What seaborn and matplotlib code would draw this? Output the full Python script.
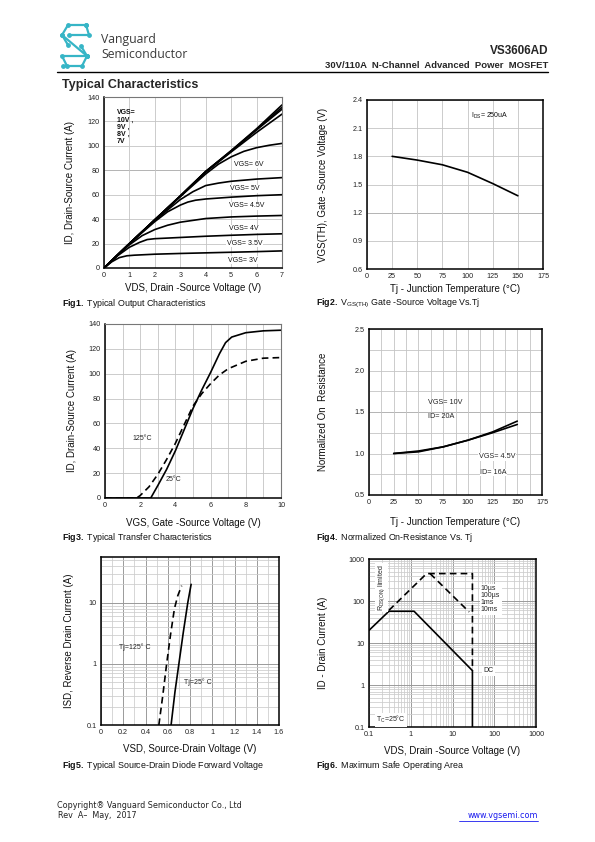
import numpy as np
import pandas as pd
import seaborn as sns
import matplotlib.pyplot as plt
from matplotlib.ticker import MultipleLocator, FixedLocator, LogLocator, NullFormatter, FormatStrFormatter, FuncFormatter

sns.set_theme(style='white')
plt.rcParams['font.family'] = ['Liberation Sans', 'DejaVu Sans']
plt.rcParams['mathtext.fontset'] = 'custom'
plt.rcParams['mathtext.rm'] = 'Liberation Sans'
plt.rcParams['mathtext.bf'] = 'Liberation Sans:bold'
plt.rcParams['mathtext.it'] = 'Liberation Sans:italic'

NARROW = ['Liberation Sans Narrow', 'Liberation Sans']

# ---- Fig1: output characteristics (VDS, ID) ----
vgs10_v = [0, 1, 2, 3, 4, 5, 6, 7]
vgs10_i = [0, 20, 39.5, 59, 79, 96, 114, 133.5]
vgs9_i = [0, 20, 39.5, 59, 79, 96, 113.5, 131.5]
vgs8_i = [0, 20, 39.5, 59, 79, 95.5, 113, 130]
vgs7_i = [0, 20, 39.5, 58.5, 78.5, 95, 111, 126]
vgs6_v = [0, 1, 2, 3, 4, 4.5, 5, 5.5, 6, 6.5, 7]
vgs6_i = [0, 20, 39.5, 58.5, 77, 85, 91, 95.5, 98.5, 100.5, 102]
vgs5_v = [0, 1, 2, 3, 3.5, 4, 4.5, 5, 6, 7]
vgs5_i = [0, 20, 39, 56, 62.5, 67.5, 69.5, 71, 72.8, 74]
vgs45_v = [0, 1, 2, 2.5, 3, 3.3, 3.6, 4, 5, 6, 7]
vgs45_i = [0, 20, 38, 46, 51.5, 54, 55.5, 56.5, 58, 59.2, 60]
vgs4_v = [0, 0.5, 1, 1.5, 2, 2.5, 3, 4, 5, 6, 7]
vgs4_i = [0, 10, 19, 26.5, 31.5, 35, 37.5, 40.5, 41.8, 42.5, 43]
vgs35_v = [0, 0.5, 1, 1.4, 1.7, 2, 3, 4, 5, 6, 7]
vgs35_i = [0, 9.5, 17, 21, 23.3, 24, 25, 26, 26.8, 27.5, 28]
vgs3_v = [0, 0.3, 0.6, 0.9, 1.2, 2, 3, 4, 5, 6, 7]
vgs3_i = [0, 5, 8.5, 10, 10.5, 11.3, 11.9, 12.4, 12.9, 13.4, 14]
fig1_labels = ['VGS= 6V', 'VGS= 5V', 'VGS= 4.5V', 'VGS= 4V', 'VGS= 3.5V', 'VGS= 3V']
fig1_label_x = [5.1, 4.97, 4.9, 4.9, 4.83, 4.87]
fig1_label_y = [85, 65, 51, 32, 20, 6.5]

# ---- Fig2: VGS(th) vs Tj ----
tj_vth = [25, 50, 75, 100, 125, 150]
vth = [1.80, 1.76, 1.71, 1.63, 1.51, 1.38]

# ---- Fig3: transfer characteristics ----
vgs_25 = [0, 2.6, 2.8, 3, 3.5, 4, 4.5, 5, 5.5, 6, 6.5, 6.85, 7.2, 8, 9, 10]
id_25 = [0, 0, 5, 10, 23, 38, 55, 72, 87, 101, 116, 125, 129.5, 133, 134.5, 135]
vgs_125 = [0, 1.8, 2, 2.5, 3, 3.5, 4, 4.5, 5, 5.5, 6, 6.5, 7, 8, 9, 10]
id_125 = [0, 0, 2, 9, 19, 31, 44, 59, 74, 84, 92, 99, 104, 110, 112.5, 113]

# ---- Fig4: normalized on-resistance ----
tj_ron = [25, 50, 75, 100, 125, 150]
ron_10v = [1.0, 1.03, 1.08, 1.16, 1.26, 1.39]
ron_45v = [1.0, 1.02, 1.08, 1.16, 1.25, 1.35]

# ---- Fig5: body diode ----
vsd_25 = [0.63, 0.665, 0.70, 0.74, 0.78, 0.81]
isd_25 = [0.1, 0.35, 1.0, 3.3, 10, 20]
vsd_125 = [0.52, 0.555, 0.59, 0.625, 0.66, 0.69, 0.725]
isd_125 = [0.1, 0.3, 1.0, 3.0, 8.0, 13, 19]

# ---- Fig6: SOA ----
soa_dc_v = [0.1, 0.3, 1.2, 30, 30]
soa_dc_i = [20, 57, 57, 2.2, 0.1]
soa_pulse_v = [0.3, 2.4, 2.9, 30, 30]
soa_pulse_i = [60, 450, 450, 450, 2.2]
soa_10ms_v = [2.9, 25]
soa_10ms_i = [450, 55]


fig = plt.figure(figsize=(5.95, 8.42), dpi=100)
W, H = 595, 842


def px_axes(l, t, r, b):
    return fig.add_axes([l / W, 1 - b / H, (r - l) / W, (b - t) / H])


def ftext(x, y, s, **kw):
    fig.text(x / W, 1 - y / H, s, **kw)


def style(ax, light_frame=False):
    ax.tick_params(axis='both', which='both', length=0, labelsize=5.2, pad=3,
                   labelfontfamily=NARROW, labelcolor='#222222')
    ax.set_axisbelow(True)
    for name, s in ax.spines.items():
        s.set_color('black')
        s.set_linewidth(1.1)
        if light_frame and name in ('top', 'right'):
            s.set_color('#777777')
            s.set_linewidth(0.8)


def line(ax, x, y, dashed=False):
    sns.lineplot(x=x, y=y, ax=ax, color='black', lw=1.2, estimator=None, sort=False,
                 linestyle=(0, (4, 2.5)) if dashed else '-')


lab_kw = dict(fontsize=7, color='#111111')

# ================= Fig1 =================
ax1 = px_axes(104, 97, 282, 268)
for yy in (vgs10_i, vgs9_i, vgs8_i, vgs7_i):
    line(ax1, vgs10_v, yy)
for xx, yy in [(vgs6_v, vgs6_i), (vgs5_v, vgs5_i), (vgs45_v, vgs45_i),
               (vgs4_v, vgs4_i), (vgs35_v, vgs35_i), (vgs3_v, vgs3_i)]:
    line(ax1, xx, yy)
ax1.set_xlim(0, 7)
ax1.set_ylim(0, 140)
ax1.xaxis.set_major_locator(MultipleLocator(1))
ax1.yaxis.set_major_locator(MultipleLocator(20))
ax1.grid(True, color='#c4c4c4', lw=0.6)
ax1.axhline(80, color='#666666', lw=0.7, zorder=0.5)
style(ax1, light_frame=True)
for s, x, y in zip(fig1_labels, fig1_label_x, fig1_label_y):
    ax1.text(x, y, s, fontsize=5, family=NARROW, va='center', ha='left',
             color='#111111', bbox=dict(fc='white', ec='none', pad=0.3))
ax1.text(0.5, 130, 'VGS=\n10V ,\n9V ,\n8V ,\n7V', fontsize=5, family=NARROW,
         va='top', ha='left', linespacing=1.05, color='#111111', fontweight='bold')
ax1.set_xlabel('VDS, Drain -Source Voltage (V)', labelpad=3, **lab_kw)
ax1.set_ylabel('ID, Drain-Source Current (A)', labelpad=9, **lab_kw)

# ================= Fig2 =================
ax2 = px_axes(367, 100, 543, 269)
line(ax2, tj_vth, vth)
ax2.set_xlim(0, 175)
ax2.set_ylim(0.6, 2.4)
ax2.xaxis.set_major_locator(MultipleLocator(25))
ax2.yaxis.set_major_locator(MultipleLocator(0.3))
ax2.yaxis.set_major_formatter(FormatStrFormatter('%.1f'))
ax2.grid(True, color='#c4c4c4', lw=0.6)
ax2.axhline(1.2, color='#666666', lw=0.7, zorder=0.5)
style(ax2)
ax2.text(103, 2.23, r'I$_{\rm DS}$= 250uA', fontsize=5, family=NARROW, va='center', color='#111111')
ax2.set_xlabel('Tj - Junction Temperature (\u00b0C)', labelpad=3, **lab_kw)
ax2.set_ylabel('VGS(TH), Gate -Source Voltage (V)', labelpad=18, **lab_kw)

# ================= Fig3 =================
ax3 = px_axes(105, 324, 281, 498)
line(ax3, vgs_25, id_25)
line(ax3, vgs_125, id_125, dashed=True)
ax3.set_xlim(0, 10)
ax3.set_ylim(0, 140)
ax3.set_xticks([0, 2, 4, 6, 8, 10])
ax3.xaxis.set_minor_locator(MultipleLocator(1))
ax3.yaxis.set_major_locator(MultipleLocator(20))
ax3.grid(True, which='both', color='#c4c4c4', lw=0.6)
style(ax3, light_frame=True)
ax3.text(1.55, 48, '125\u00b0C', fontsize=5, family=NARROW, va='center', ha='left')
ax3.text(3.45, 15, '25\u00b0C', fontsize=5, family=NARROW, va='center', ha='left')
ax3.set_xlabel('VGS, Gate -Source Voltage (V)', labelpad=6, **lab_kw)
ax3.set_ylabel('ID, Drain-Source Current (A)', labelpad=8, **lab_kw)

# ================= Fig4 =================
ax4 = px_axes(369, 329, 542, 495)
line(ax4, tj_ron, ron_10v)
line(ax4, tj_ron, ron_45v)
ax4.set_xlim(0, 175)
ax4.set_ylim(0.5, 2.5)
ax4.xaxis.set_major_locator(MultipleLocator(25))
ax4.xaxis.set_minor_locator(MultipleLocator(12.5))
ax4.yaxis.set_major_locator(MultipleLocator(0.5))
ax4.yaxis.set_minor_locator(MultipleLocator(0.25))
ax4.yaxis.set_major_formatter(FormatStrFormatter('%.1f'))
ax4.grid(True, which='both', color='#c4c4c4', lw=0.6)
ax4.axhline(1.5, color='#666666', lw=0.7, zorder=0.5)
style(ax4)
for x, y, s in [(60, 1.62, 'VGS= 10V'), (60, 1.44, 'ID= 20A'),
                (111, 0.96, 'VGS= 4.5V'), (112.5, 0.77, 'ID= 16A')]:
    ax4.text(x, y, s, fontsize=5.2, family=NARROW, va='center', ha='left',
             bbox=dict(fc='white', ec='none', pad=0.2) if s.startswith(('VGS= 4', 'ID= 16')) else None)
ax4.set_xlabel('Tj - Junction Temperature (\u00b0C)', labelpad=8, **lab_kw)
ax4.set_ylabel('Normalized On  Resistance', labelpad=19, **lab_kw)

# ================= Fig5 =================
ax5 = px_axes(101, 557, 279, 725)
line(ax5, vsd_25, isd_25)
line(ax5, vsd_125, isd_125, dashed=True)
ax5.set_yscale('log')
ax5.set_xlim(0, 1.6)
ax5.set_ylim(0.1, 56)
ax5.xaxis.set_major_locator(MultipleLocator(0.2))
ax5.xaxis.set_minor_locator(MultipleLocator(0.1))
ax5.xaxis.set_major_formatter(FuncFormatter(lambda v, p: '%g' % round(v, 1)))
ax5.yaxis.set_major_locator(FixedLocator([0.1, 1, 10]))
ax5.yaxis.set_minor_locator(LogLocator(base=10, subs=np.arange(2, 10)))
ax5.yaxis.set_major_formatter(FuncFormatter(lambda v, p: '%g' % v))
ax5.yaxis.set_minor_formatter(NullFormatter())
ax5.grid(True, which='major', color='#9a9a9a', lw=0.7)
ax5.grid(True, which='minor', color='#cccccc', lw=0.55)
style(ax5)
ax5.text(0.16, 1.9, 'Tj=125\u00b0 C', fontsize=5, family=NARROW, va='center', ha='left')
ax5.text(0.75, 0.5, 'Tj=25\u00b0 C', fontsize=5, family=NARROW, va='center', ha='left')
ax5.set_xlabel('VSD, Source-Drain Voltage (V)', labelpad=6, **lab_kw)
ax5.set_ylabel('ISD, Reverse Drain Current (A)', labelpad=9, **lab_kw)

# ================= Fig6 =================
ax6 = px_axes(369, 559, 536, 727)
line(ax6, soa_dc_v, soa_dc_i)
line(ax6, soa_pulse_v, soa_pulse_i, dashed=True)
line(ax6, soa_10ms_v, soa_10ms_i, dashed=True)
ax6.set_xscale('log')
ax6.set_yscale('log')
ax6.set_xlim(0.1, 1000)
ax6.set_ylim(0.1, 1000)
for a in (ax6.xaxis, ax6.yaxis):
    a.set_major_locator(FixedLocator([0.1, 1, 10, 100, 1000]))
    a.set_minor_locator(LogLocator(base=10, subs=np.arange(2, 10)))
    a.set_major_formatter(FuncFormatter(lambda v, p: '%g' % v))
    a.set_minor_formatter(NullFormatter())
ax6.grid(True, which='major', color='#9a9a9a', lw=0.7)
ax6.grid(True, which='minor', color='#cccccc', lw=0.55)
style(ax6)
wb = dict(fc='white', ec='none', pad=1.0)
ax6.text(48, 110, '10\u00b5s\n100\u00b5s\n1ms\n10ms', fontsize=5, family=NARROW,
         va='center', ha='left', linespacing=1.0, bbox=wb)
ax6.text(55, 2.2, 'DC', fontsize=5, family=NARROW, va='center', ha='left', bbox=wb)
ax6.text(0.2, 210, r'R$_{\rm DS(ON)}$ limited', fontsize=5, family=NARROW, rotation=90,
         va='center', ha='center', bbox=wb)
ax6.text(0.15, 0.15, 'T$_{\\rm C}$=25\u00b0C', fontsize=5,
         family=NARROW, va='center', ha='left', bbox=wb)
ax6.set_xlabel('VDS, Drain -Source Voltage (V)', labelpad=6, **lab_kw)
ax6.set_ylabel('ID - Drain Current (A)', labelpad=15, **lab_kw)

# ---- captions ----
cap_kw = dict(fontsize=6.4, va='center', ha='left', color='#111111')
ftext(62, 303, r'$\mathbf{Fig1.}$ Typical Output Characteristics', **cap_kw)
ftext(316, 303, r'$\mathbf{Fig2.}$ V$_{\rm GS(TH)}$ Gate -Source Voltage Vs.Tj', **cap_kw)
ftext(62, 537, r'$\mathbf{Fig3.}$ Typical Transfer Characteristics', **cap_kw)
ftext(316, 537, r'$\mathbf{Fig4.}$ Normalized On-Resistance Vs. Tj', **cap_kw)
ftext(62, 766, r'$\mathbf{Fig5.}$ Typical Source-Drain Diode Forward Voltage', **cap_kw)
ftext(316, 766, r'$\mathbf{Fig6.}$ Maximum Safe Operating Area', **cap_kw)

# ---- header ----
logo = fig.add_axes([56 / W, 1 - 70 / H, 42 / W, 50 / H])
logo.set_xlim(56, 98)
logo.set_ylim(70, 20)
logo.axis('off')
cyan = '#36b5c6'
logo_paths = [
    [(86, 25), (68, 25), (62, 35), (87, 56), (82, 66), (63, 66)],
    [(86, 25), (89, 35), (69, 35)],
    [(62, 35), (68, 45)],
    [(87, 56), (62, 56), (67, 66)],
    [(81, 46), (87, 56)],
]
for p in logo_paths:
    xs, ys = zip(*p)
    logo.plot(xs, ys, color=cyan, lw=1.6, solid_joinstyle='miter')
    logo.scatter(xs, ys, s=6, color=cyan, zorder=3)
ftext(101, 40, 'Vanguard', fontsize=8.8, family=['Open Sans', 'DejaVu Sans'], color='#3a3a3a', va='center')
ftext(101, 55, 'Semiconductor', fontsize=8.8, family=['Open Sans', 'DejaVu Sans'], color='#3a3a3a', va='center')
ftext(548, 51, 'VS3606AD', fontsize=8.5, fontweight='bold', ha='right', va='center')
ftext(548, 66, '30V/110A  N-Channel  Advanced  Power  MOSFET', fontsize=6.8,
      fontweight='bold', ha='right', va='center')
fig.add_artist(plt.Line2D([57 / W, 548 / W], [1 - 71.5 / H, 1 - 71.5 / H], color='black', lw=1.0))
ftext(62, 85, 'Typical Characteristics', fontsize=9, fontweight='bold', va='center')

# ---- footer ----
foot = dict(fontsize=5.8, family=['DejaVu Sans'], va='center', color='#222222')
ftext(57, 805, 'Copyright\u00ae Vanguard Semiconductor Co., Ltd', **foot)
ftext(58, 816, 'Rev  A\u2013  May,  2017', **foot)
ftext(538, 816, 'www.vgsemi.com', fontsize=5.8, family=['DejaVu Sans'], va='center',
      ha='right', color='#1a1aee')
fig.add_artist(plt.Line2D([459 / W, 538 / W], [1 - 820.5 / H, 1 - 820.5 / H], color='#1a1aee', lw=0.6))

fig.savefig('out.png', dpi=100)
